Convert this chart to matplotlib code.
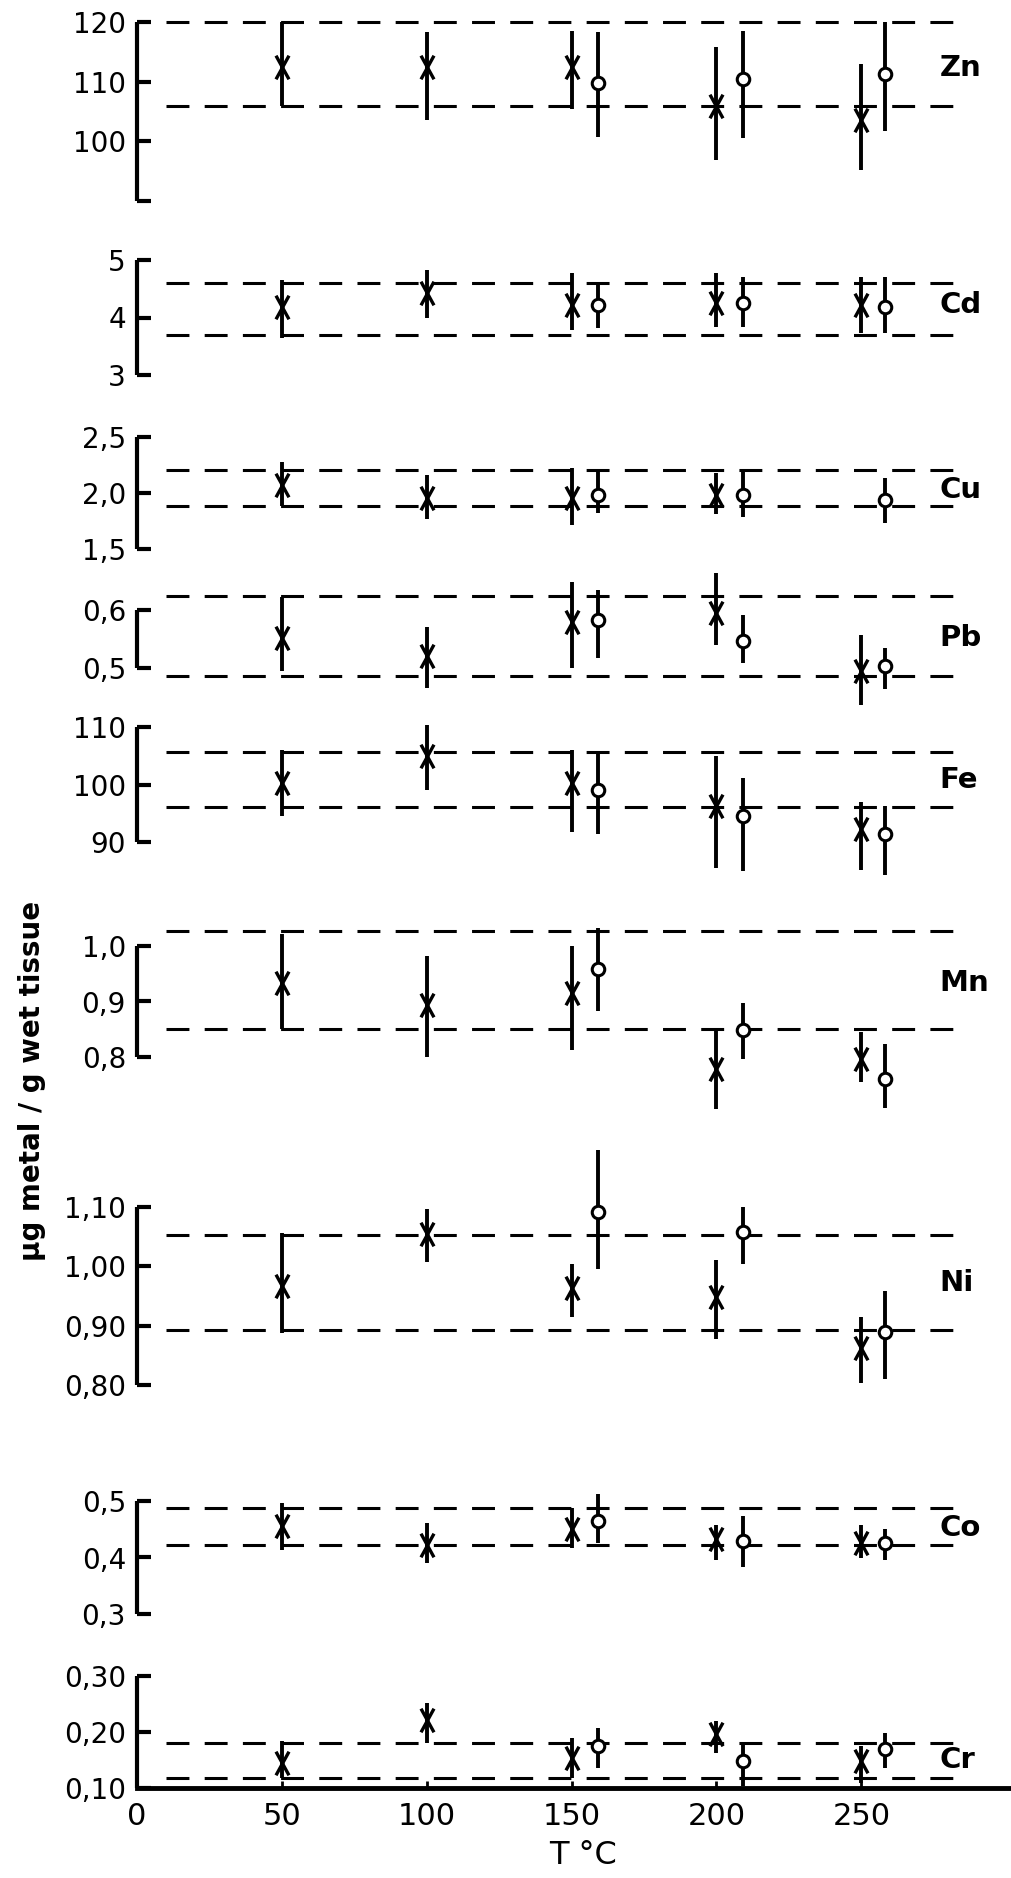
import numpy as np
import matplotlib
matplotlib.use("Agg")
import matplotlib.pyplot as plt
from matplotlib.path import Path

plt.rcParams["font.family"] = "DejaVu Sans"

# sampling temperatures: crosses at the nominal value, circles set just to the right
temps_x = [50, 100, 150, 200, 250]
temps_o = [159, 209, 258]

# Zn
zn_band = [106, 120]
zn_x, zn_x_lo, zn_x_hi = [112.5, 112.5, 112.5, 106, 103.5], [106, 103.5, 105.5, 96.8, 95.2], [120, 118.3, 118.5, 115.8, 113]
zn_o, zn_o_lo, zn_o_hi = [109.7, 110.5, 111.3], [100.8, 100.5, 101.8], [118.3, 118.5, 120]

# Cd
cd_band = [3.7, 4.6]
cd_x, cd_x_lo, cd_x_hi = [4.18, 4.43, 4.22, 4.25, 4.22], [3.64, 3.99, 3.78, 3.83, 3.73], [4.65, 4.83, 4.77, 4.77, 4.70]
cd_o, cd_o_lo, cd_o_hi = [4.22, 4.25, 4.18], [3.82, 3.83, 3.73], [4.62, 4.70, 4.70]

# Cu (no cross at 250)
cu_band = [1.882, 2.206]
cu_x, cu_x_lo, cu_x_hi = [2.07, 1.956, 1.956, 1.985, np.nan], [1.88, 1.765, 1.71, 1.81, np.nan], [2.28, 2.16, 2.22, 2.18, np.nan]
cu_o, cu_o_lo, cu_o_hi = [1.985, 1.985, 1.94], [1.82, 1.79, 1.735], [2.206, 2.206, 2.13]

# Pb
pb_band = [0.487, 0.624]
pb_x, pb_x_lo, pb_x_hi = [0.551, 0.52, 0.58, 0.594, 0.494], [0.494, 0.466, 0.50, 0.54, 0.437], [0.623, 0.571, 0.649, 0.663, 0.557]
pb_o, pb_o_lo, pb_o_hi = [0.583, 0.546, 0.504], [0.517, 0.509, 0.463], [0.635, 0.591, 0.534]

# Fe
fe_band = [96.1, 105.7]
fe_x, fe_x_lo, fe_x_hi = [100.3, 104.9, 100.3, 96.3, 92.3], [94.6, 99.1, 91.7, 85.4, 85.2], [106, 110.3, 106, 104.9, 96.9]
fe_o, fe_o_lo, fe_o_hi = [99.1, 94.6, 91.4], [91.4, 84.9, 84.2], [105.4, 101.1, 96.3]

# Mn
mn_band = [0.85, 1.027]
mn_x, mn_x_lo, mn_x_hi = [0.933, 0.894, 0.915, 0.779, 0.797], [0.85, 0.80, 0.812, 0.706, 0.755], [1.021, 0.982, 1.0, 0.85, 0.845]
mn_o, mn_o_lo, mn_o_hi = [0.958, 0.848, 0.761], [0.882, 0.797, 0.709], [1.033, 0.897, 0.824]

# Ni
ni_band = [0.893, 1.052]
ni_x, ni_x_lo, ni_x_hi = [0.967, 1.054, 0.964, 0.949, 0.862], [0.887, 1.007, 0.915, 0.878, 0.804], [1.057, 1.097, 1.004, 1.01, 0.915]
ni_o, ni_o_lo, ni_o_hi = [1.091, 1.058, 0.89], [0.995, 1.004, 0.81], [1.196, 1.10, 0.959]

# Co
co_band = [0.423, 0.488]
co_x, co_x_lo, co_x_hi = [0.455, 0.423, 0.45, 0.432, 0.426], [0.414, 0.39, 0.417, 0.396, 0.399], [0.497, 0.461, 0.488, 0.458, 0.458]
co_o, co_o_lo, co_o_hi = [0.464, 0.429, 0.426], [0.426, 0.384, 0.396], [0.512, 0.473, 0.45]

# Cr
cr_band = [0.118, 0.181]
cr_x, cr_x_lo, cr_x_hi = [0.145, 0.222, 0.154, 0.196, 0.148], [0.118, 0.181, 0.118, 0.163, 0.109], [0.184, 0.252, 0.19, 0.219, 0.175]
cr_o, cr_o_lo, cr_o_hi = [0.175, 0.148, 0.169], [0.136, 0.103, 0.136], [0.207, 0.181, 0.199]

# name, y range, ticks, tick labels, label height, top/bottom pixel rows
panels = [
    ("Zn", (90, 120), [90, 100, 110, 120], ["", "100", "110", "120"], 112.3, (22, 201),
     zn_band, (zn_x, zn_x_lo, zn_x_hi), (zn_o, zn_o_lo, zn_o_hi)),
    ("Cd", (3, 5), [3, 4, 5], ["3", "4", "5"], 4.22, (260, 375),
     cd_band, (cd_x, cd_x_lo, cd_x_hi), (cd_o, cd_o_lo, cd_o_hi)),
    ("Cu", (1.5, 2.5), [1.5, 2.0, 2.5], ["1,5", "2,0", "2,5"], 2.03, (437, 549),
     cu_band, (cu_x, cu_x_lo, cu_x_hi), (cu_o, cu_o_lo, cu_o_hi)),
    ("Pb", (0.5, 0.6), [0.5, 0.6], ["0,5", "0,6"], 0.552, (610, 668),
     pb_band, (pb_x, pb_x_lo, pb_x_hi), (pb_o, pb_o_lo, pb_o_hi)),
    ("Fe", (90, 110), [90, 100, 110], ["90", "100", "110"], 100.8, (727, 842),
     fe_band, (fe_x, fe_x_lo, fe_x_hi), (fe_o, fe_o_lo, fe_o_hi)),
    ("Mn", (0.8, 1.0), [0.8, 0.9, 1.0], ["0,8", "0,9", "1,0"], 0.933, (946, 1057),
     mn_band, (mn_x, mn_x_lo, mn_x_hi), (mn_o, mn_o_lo, mn_o_hi)),
    ("Ni", (0.8, 1.1), [0.8, 0.9, 1.0, 1.1], ["0,80", "0,90", "1,00", "1,10"], 0.972, (1207, 1385),
     ni_band, (ni_x, ni_x_lo, ni_x_hi), (ni_o, ni_o_lo, ni_o_hi)),
    ("Co", (0.3, 0.5), [0.3, 0.4, 0.5], ["0,3", "0,4", "0,5"], 0.452, (1501, 1614),
     co_band, (co_x, co_x_lo, co_x_hi), (co_o, co_o_lo, co_o_hi)),
    ("Cr", (0.1, 0.3), [0.1, 0.2, 0.3], ["0,10", "0,20", "0,30"], 0.15, (1676, 1788),
     cr_band, (cr_x, cr_x_lo, cr_x_hi), (cr_o, cr_o_lo, cr_o_hi)),
]

W, H = 1012, 1878
fig = plt.figure(figsize=(W / 100, H / 100), dpi=100)

# narrow upright cross used for the 50..250 series
cross = Path([(-0.55, -1), (0.55, 1), (-0.55, 1), (0.55, -1)],
             [Path.MOVETO, Path.LINETO, Path.MOVETO, Path.LINETO])

x_left = 137
xmax = 302

for i, (name, ylim, ticks, labels, name_y, (top, bot), band, xser, oser) in enumerate(panels):
    last = i == len(panels) - 1
    ax = fig.add_axes([x_left / W, 1 - bot / H, (W - x_left) / W, (bot - top) / H])
    ax.set_xlim(0, xmax)
    ax.set_ylim(*ylim)
    ax.patch.set_visible(False)
    for side in ("top", "right"):
        ax.spines[side].set_visible(False)
    ax.spines["left"].set_linewidth(3)
    ax.spines["left"].set_capstyle("butt")
    ax.set_yticks(ticks)
    ax.set_yticklabels(labels)
    ax.tick_params(axis="y", direction="in", length=10, width=3, pad=8, labelsize=20)

    if last:
        ax.spines["bottom"].set_linewidth(3.5)
        ax.set_xticks([0, 50, 100, 150, 200, 250])
        ax.set_xticklabels(["0", "50", "100", "150", "200", "250"])
        ax.tick_params(axis="x", direction="in", length=5, width=2, pad=10, labelsize=22)
    else:
        ax.spines["bottom"].set_visible(False)
        ax.set_xticks([])

    for v in band:
        ax.plot([10, 282], [v, v], color="k", lw=2.2, dashes=(7.5, 5), clip_on=False, zorder=1)

    m, lo, hi = xser
    ax.vlines(temps_x, lo, hi, color="k", lw=2.8, clip_on=False, zorder=2)
    ax.plot(temps_x, m, ls="none", marker=cross, ms=17, mew=2.4, color="k", clip_on=False, zorder=3)

    m, lo, hi = oser
    ax.vlines(temps_o, lo, hi, color="k", lw=2.8, clip_on=False, zorder=2)
    ax.plot(temps_o, m, ls="none", marker="o", ms=9, mfc="white", mec="k", mew=2.2,
            clip_on=False, zorder=3)

    ax.text(277, name_y, name, fontsize=21, fontweight="bold", va="center", ha="left")

fig.text(32 / W, 1 - 1081 / H, "μg metal / g wet tissue", rotation=90, fontsize=20,
         fontweight="bold", ha="center", va="center")
fig.text(583 / W, 1 - 1856 / H, "T °C", fontsize=23, ha="center", va="center")

fig.savefig("out.png", dpi=100)
